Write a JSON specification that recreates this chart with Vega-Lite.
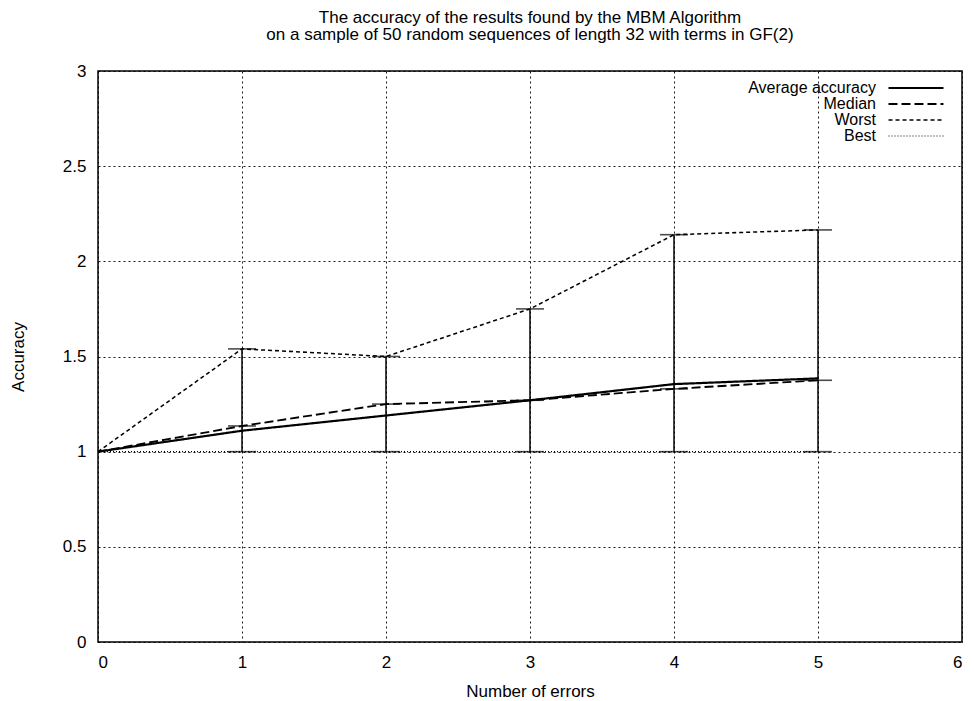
{
  "$schema": "https://vega.github.io/schema/vega-lite/v6.json",
  "width": 864,
  "height": 571,
  "autosize": {"type": "none"},
  "padding": {"left": 98, "top": 71, "right": 12, "bottom": 59},
  "background": "white",
  "title": {
    "text": ["The accuracy of the results found by the MBM Algorithm", "on a sample of 50 random sequences of length 32 with terms in GF(2)"],
    "font": "Liberation Sans",
    "fontSize": 17,
    "fontWeight": "normal",
    "color": "black",
    "anchor": "middle",
    "lineHeight": 17.5,
    "offset": 18
  },
  "datasets": {
    "lines": [
      {"errors": 0, "series": "Average accuracy", "accuracy": 1.0},
      {"errors": 1, "series": "Average accuracy", "accuracy": 1.11},
      {"errors": 2, "series": "Average accuracy", "accuracy": 1.19},
      {"errors": 3, "series": "Average accuracy", "accuracy": 1.27},
      {"errors": 4, "series": "Average accuracy", "accuracy": 1.355},
      {"errors": 5, "series": "Average accuracy", "accuracy": 1.385},
      {"errors": 0, "series": "Median", "accuracy": 1.0},
      {"errors": 1, "series": "Median", "accuracy": 1.135},
      {"errors": 2, "series": "Median", "accuracy": 1.25},
      {"errors": 3, "series": "Median", "accuracy": 1.27},
      {"errors": 4, "series": "Median", "accuracy": 1.33},
      {"errors": 5, "series": "Median", "accuracy": 1.375},
      {"errors": 0, "series": "Worst", "accuracy": 1.0},
      {"errors": 1, "series": "Worst", "accuracy": 1.54},
      {"errors": 2, "series": "Worst", "accuracy": 1.5},
      {"errors": 3, "series": "Worst", "accuracy": 1.75},
      {"errors": 4, "series": "Worst", "accuracy": 2.14},
      {"errors": 5, "series": "Worst", "accuracy": 2.165},
      {"errors": 0, "series": "Best", "accuracy": 1.0},
      {"errors": 1, "series": "Best", "accuracy": 1.0},
      {"errors": 2, "series": "Best", "accuracy": 1.0},
      {"errors": 3, "series": "Best", "accuracy": 1.0},
      {"errors": 4, "series": "Best", "accuracy": 1.0},
      {"errors": 5, "series": "Best", "accuracy": 1.0}
    ],
    "bars": [
      {"errors": 1, "best": 1.0, "median": 1.135, "worst": 1.54},
      {"errors": 2, "best": 1.0, "median": 1.25, "worst": 1.5},
      {"errors": 3, "best": 1.0, "median": 1.27, "worst": 1.75},
      {"errors": 4, "best": 1.0, "median": 1.33, "worst": 2.14},
      {"errors": 5, "best": 1.0, "median": 1.375, "worst": 2.165}
    ]
  },
  "encoding": {
    "x": {
      "field": "errors",
      "type": "quantitative",
      "scale": {"domain": [0, 6], "nice": false, "zero": false},
      "axis": {"values": [0, 1, 2, 3, 4, 5, 6], "title": "Number of errors", "titlePadding": 13}
    }
  },
  "layer": [
    {
      "data": {"name": "bars"},
      "mark": {"type": "rule", "color": "black", "strokeWidth": 1.5},
      "encoding": {
        "y": {"field": "best", "type": "quantitative"},
        "y2": {"field": "worst"}
      }
    },
    {
      "data": {"name": "bars"},
      "transform": [{"fold": ["best", "median", "worst"], "as": ["kind", "level"]}],
      "mark": {"type": "tick", "orient": "horizontal", "color": "black", "size": 28, "thickness": 1.6},
      "encoding": {
        "y": {"field": "level", "type": "quantitative"}
      }
    },
    {
      "data": {"name": "lines"},
      "mark": {"type": "line", "color": "black"},
      "encoding": {
        "y": {
          "field": "accuracy",
          "type": "quantitative",
          "scale": {"domain": [0, 3], "nice": false},
          "axis": {"values": [0, 0.5, 1, 1.5, 2, 2.5, 3], "format": "~g", "title": "Accuracy", "titleX": -80, "titleY": 285.5, "titleBaseline": "middle", "titleAlign": "center"}
        },
        "detail": {"field": "series"},
        "strokeDash": {
          "field": "series",
          "type": "nominal",
          "scale": {"domain": ["Average accuracy", "Median", "Worst", "Best"], "range": [[1, 0], [9, 4], [4, 3], [1, 2]]},
          "legend": {"title": null}
        },
        "strokeWidth": {
          "field": "series",
          "type": "nominal",
          "scale": {"domain": ["Average accuracy", "Median", "Worst", "Best"], "range": [2.2, 1.2, 1.4, 1]},
          "legend": {"title": null}
        }
      }
    }
  ],
  "config": {
    "font": "Liberation Sans",
    "view": {"stroke": "black", "strokeWidth": 1.5},
    "axis": {
      "grid": true,
      "gridColor": "black",
      "gridDash": [2, 3],
      "gridWidth": 1,
      "gridOpacity": 0.9,
      "domain": false,
      "ticks": false,
      "tickSize": 0,
      "labelFont": "Liberation Sans",
      "labelFontSize": 17,
      "labelColor": "black",
      "labelPadding": 12,
      "titleFont": "Liberation Sans",
      "titleFontSize": 17,
      "titleFontWeight": "normal",
      "titleColor": "black"
    },
    "axisY": {"labelPadding": 12},
    "legend": {
      "orient": "none",
      "legendX": 810,
      "legendY": 9,
      "padding": 0,
      "symbolType": "M-4,0H4",
      "symbolSize": 189,
      "symbolStrokeColor": "black",
      "labelAlign": "right",
      "labelOffset": -48,
      "labelFont": "Liberation Sans",
      "labelFontSize": 16,
      "labelColor": "black",
      "rowPadding": 0,
      "labelLimit": 300
    }
  }
}
